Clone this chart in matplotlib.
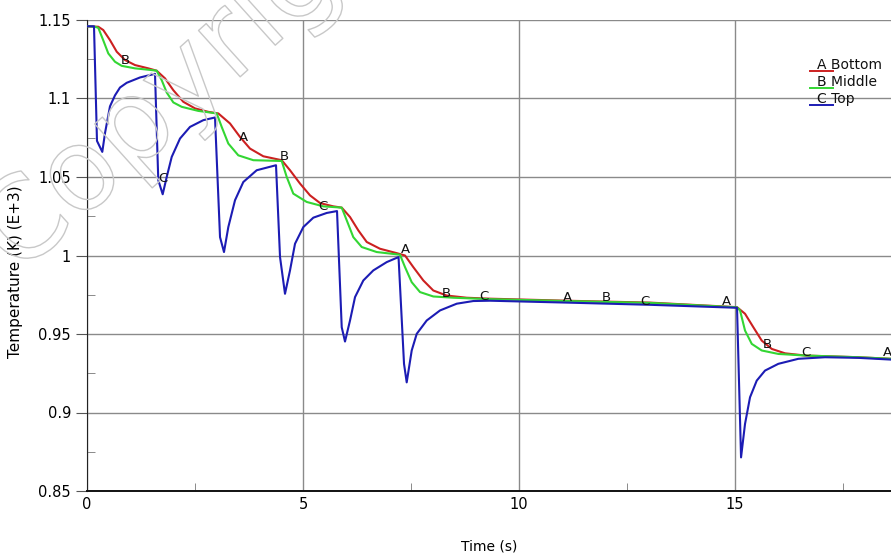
import numpy as np
import matplotlib
matplotlib.use("Agg")
import matplotlib.pyplot as plt
from matplotlib.ticker import MultipleLocator, FormatStrFormatter
from matplotlib.lines import Line2D
import matplotlib.patheffects as pe

# values (time in s, temperature in K/1000)
t_bottom = [0.0, 0.262, 0.377, 0.532, 0.688, 0.880, 1.111, 1.419, 1.613, 1.806, 1.998,
            2.229, 2.500, 2.808, 3.039, 3.310, 3.542, 3.773, 4.081, 4.507, 4.699, 4.931,
            5.162, 5.394, 5.701, 5.896, 6.088, 6.280, 6.475, 6.782, 7.169, 7.361, 7.553,
            7.785, 8.016, 8.326, 8.789, 9.329, 11.104, 13.032, 15.046, 15.231, 15.424,
            15.618, 15.850, 16.157, 16.620, 17.854, 18.611]
v_bottom = [1.146, 1.1457, 1.1436, 1.1372, 1.1298, 1.1245, 1.1213, 1.1192, 1.1177, 1.1128,
            1.1053, 1.0979, 1.0937, 1.0915, 1.0905, 1.0841, 1.0755, 1.0681, 1.0632, 1.0607,
            1.0543, 1.0458, 1.0383, 1.0334, 1.0313, 1.0305, 1.0245, 1.0160, 1.0086, 1.0043,
            1.0015, 1.0000, 0.9926, 0.9841, 0.9777, 0.9745, 0.9731, 0.9725, 0.9712, 0.9700,
            0.9671, 0.9629, 0.9543, 0.9458, 0.9405, 0.9377, 0.9363, 0.9352, 0.9342]

t_middle = [0.0, 0.185, 0.262, 0.377, 0.493, 0.648, 0.803, 1.111, 1.498, 1.613, 1.729,
            1.845, 1.998, 2.192, 2.576, 3.002, 3.118, 3.271, 3.502, 3.850, 4.507, 4.623,
            4.775, 5.086, 5.470, 5.896, 6.012, 6.164, 6.359, 6.706, 7.245, 7.361, 7.516,
            7.708, 8.016, 8.479, 9.329, 11.104, 13.032, 15.046, 15.116, 15.231, 15.387,
            15.618, 16.002, 16.620, 17.854, 18.611]
v_middle = [1.146, 1.1457, 1.1450, 1.1370, 1.1287, 1.1234, 1.1208, 1.1192, 1.1181, 1.1177,
            1.1117, 1.1038, 1.0975, 1.0947, 1.0921, 1.0905, 1.0819, 1.0713, 1.0638, 1.0607,
            1.0602, 1.0500, 1.0394, 1.0341, 1.0313, 1.0305, 1.0224, 1.0117, 1.0054, 1.0022,
            1.0005, 0.9926, 0.9830, 0.9767, 0.9739, 0.9731, 0.9722, 0.9710, 0.9698, 0.9670,
            0.9650, 0.9522, 0.9437, 0.9395, 0.9373, 0.9363, 0.9352, 0.9342]

t_top = [0.0, 0.162, 0.231, 0.354, 0.417, 0.532, 0.648, 0.764, 0.919, 1.227, 1.574,
         1.650, 1.752, 1.845, 1.961, 2.153, 2.384, 2.692, 2.963,
         3.079, 3.171, 3.271, 3.426, 3.618, 3.928, 4.375,
         4.468, 4.583, 4.699, 4.815, 5.007, 5.239, 5.549, 5.787,
         5.896, 5.972, 6.088, 6.204, 6.396, 6.627, 6.938, 7.211,
         7.338, 7.400, 7.516, 7.632, 7.863, 8.171, 8.558, 8.942, 9.329, 11.104, 13.032,
         15.046, 15.139, 15.231, 15.347, 15.502, 15.694, 16.002, 16.465, 17.083, 17.854,
         18.611]
v_top = [1.146, 1.146, 1.073, 1.066, 1.078, 1.095, 1.102, 1.107, 1.110, 1.1134, 1.1157,
         1.048, 1.039, 1.050, 1.0628, 1.0745, 1.0819, 1.0862, 1.0879,
         1.0117, 1.0022, 1.0181, 1.0352, 1.0468, 1.0543, 1.0575,
         0.999, 0.9756, 0.9905, 1.0075, 1.0181, 1.0241, 1.0271, 1.0283,
         0.9543, 0.9452, 0.9586, 0.9735, 0.9841, 0.9905, 0.9958, 0.9990,
         0.931, 0.9192, 0.9395, 0.9501, 0.9586, 0.9650, 0.9693, 0.9710, 0.9712, 0.9700,
         0.9686, 0.9667, 0.8714, 0.8927, 0.9097, 0.9203, 0.9267, 0.9310, 0.9342, 0.9352,
         0.9348, 0.9337]

# curve tags (letter, time, value)
tag_letters = ["B", "C", "A", "B", "C", "A", "B", "C", "A", "B", "C", "A", "B", "C", "A"]
tag_t = [0.88, 1.76, 3.63, 4.56, 5.46, 7.38, 8.31, 9.19, 11.11, 12.01, 12.92, 14.81,
         15.74, 16.64, 18.52]
tag_v = [1.1245, 1.049, 1.075, 1.063, 1.031, 1.004, 0.976, 0.974, 0.973, 0.973, 0.971,
         0.971, 0.943, 0.938, 0.938]

series_names = ["A Bottom", "B Middle", "C Top"]
colors = ["#cc2020", "#33d633", "#1c1cb4"]

fig = plt.figure(figsize=(8.91, 5.54), dpi=100)
ax = fig.add_axes([87 / 891, 63 / 554, 804 / 891, 471 / 554])

ax.plot(t_bottom, v_bottom, color=colors[0], lw=1.5, zorder=3)
ax.plot(t_middle, v_middle, color=colors[1], lw=1.5, zorder=4)
ax.plot(t_top, v_top, color=colors[2], lw=1.5, zorder=5)

for s, x, y in zip(tag_letters, tag_t, tag_v):
    ax.text(x, y, s, fontsize=9.5, ha="center", va="center", color="#111111", zorder=6)

ax.set_xlim(0, 18.61)
ax.set_ylim(0.85, 1.15)
ax.xaxis.set_major_locator(MultipleLocator(5))
ax.xaxis.set_minor_locator(MultipleLocator(2.5))
ax.yaxis.set_major_locator(MultipleLocator(0.05))
ax.yaxis.set_minor_locator(MultipleLocator(0.025))
ax.yaxis.set_major_formatter(FormatStrFormatter("%g"))
ax.grid(True, which="major", color="#8a8a8a", lw=1.0)
ax.set_axisbelow(True)

ax.tick_params(axis="both", which="major", labelsize=10.5, direction="out", length=8,
               color="#555555")
ax.tick_params(axis="x", which="major", length=0, pad=4)
ax.tick_params(axis="both", which="minor", direction="in", length=6, color="#777777")

for side in ["top", "right"]:
    ax.spines[side].set_visible(False)
ax.spines["left"].set_color("#222222")
ax.spines["bottom"].set_color("#111111")
ax.spines["bottom"].set_linewidth(1.4)

ax.set_xlabel("Time (s)", fontsize=10)
ax.set_ylabel("Temperature (K) (E+3)", fontsize=11)
ax.xaxis.set_label_coords(0.5, -0.104)
ax.yaxis.set_label_coords(-0.079, 0.465)

# hand-made legend in the upper right
leg_y = [0.905, 0.868, 0.832]
for name, c, y in zip(series_names, colors, leg_y):
    ax.add_line(Line2D([0.899, 0.928], [y - 0.013, y - 0.013], color=c, lw=1.4,
                       transform=ax.transAxes, clip_on=False, zorder=7))
    ax.text(0.908, y, name, fontsize=10, ha="left", va="center", transform=ax.transAxes,
            color="#111111", zorder=8)

# faint outlined watermark
wm = fig.text(0.02, 0.50, "Copyright", fontsize=82, rotation=42, rotation_mode="anchor",
              ha="left", va="baseline", color="none", zorder=0)
wm.set_path_effects([pe.Stroke(linewidth=1.0, foreground="#c8c8c8")])

fig.savefig("out.png", dpi=100)
